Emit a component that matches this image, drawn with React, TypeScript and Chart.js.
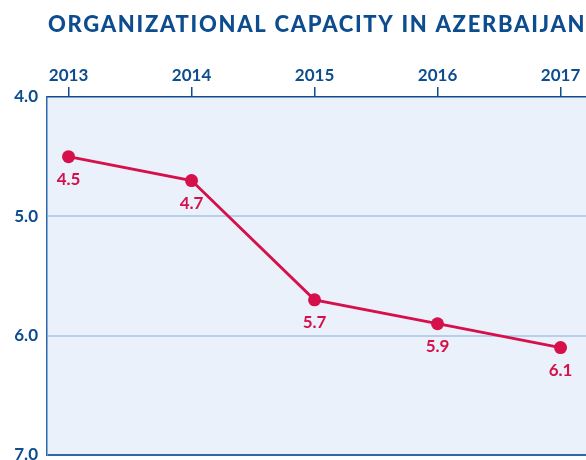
import React, { useEffect, useRef } from "react";
import { Chart, registerables } from "chart.js";

Chart.register(...registerables);

const TITLE = "ORGANIZATIONAL CAPACITY IN AZERBAIJAN";
const years = [2013, 2014, 2015, 2016, 2017];
const scores = [4.5, 4.7, 5.7, 5.9, 6.1];
const yTicks = [4, 5, 6, 7];

const BLUE = "#0d4c8e";
const RED = "#d5104a";
const BG = "#eaf1fa";
const GRID = "#b7cfeb";
const FONT = "Lato";

const bgPlugin = {
  id: "bgPlugin",
  beforeDraw(chart: any) {
    const { ctx, chartArea: a } = chart;
    ctx.save();
    ctx.fillStyle = BG;
    ctx.fillRect(a.left, a.top, a.right - a.left, a.bottom - a.top);
    ctx.restore();
  },
  afterDraw(chart: any) {
    const { ctx } = chart;
    ctx.save();
    ctx.fillStyle = BLUE;
    ctx.font = `900 22px ${FONT}`;
    ctx.textAlign = "left";
    ctx.textBaseline = "middle";
    (ctx as any).letterSpacing = "1.7px";
    ctx.fillText(TITLE, 48, 25);
    ctx.restore();
  },
};

const labelPlugin = {
  id: "labelPlugin",
  afterDatasetsDraw(chart: any) {
    const { ctx } = chart;
    const meta = chart.getDatasetMeta(0);
    ctx.save();
    ctx.fillStyle = RED;
    ctx.font = `bold 17px ${FONT}`;
    ctx.textAlign = "center";
    ctx.textBaseline = "middle";
    meta.data.forEach((pt: any, i: number) => {
      ctx.fillText(scores[i].toFixed(1), pt.x, pt.y + 23);
    });
    ctx.restore();
  },
};

export default function App() {
  const ref = useRef<HTMLCanvasElement | null>(null);
  useEffect(() => {
    if (!ref.current) return;
    const chart = new Chart(ref.current, {
      type: "line",
      data: {
        datasets: [
          {
            data: years.map((y, i) => ({ x: y, y: scores[i] })),
            borderColor: RED,
            backgroundColor: RED,
            borderWidth: 2.8,
            pointRadius: 6.5,
            pointHoverRadius: 6.5,
            pointBackgroundColor: RED,
            pointBorderWidth: 0,
            tension: 0,
          },
        ],
      },
      plugins: [bgPlugin, labelPlugin],
      options: {
        animation: false,
        responsive: false,
        devicePixelRatio: 1,
        layout: {
          autoPadding: false,
          padding: { top: 0, right: 0, bottom: 5, left: 0 },
        },
        plugins: {
          legend: { display: false },
          tooltip: { enabled: false },
          title: { display: false },
        },
        scales: {
          x: {
            type: "linear",
            position: "top",
            min: 2012.825,
            max: 2017.207,
            afterBuildTicks: (s: any) => {
              s.ticks = years.map((v) => ({ value: v }));
            },
            afterFit: (s: any) => {
              s.height = 97;
              s.paddingLeft = 0;
              s.paddingRight = 0;
            },
            ticks: {
              color: BLUE,
              font: { family: FONT, weight: "bold", size: 17 },
              padding: 1,
              maxRotation: 0,
              callback: (v: any) => String(v),
            },
            grid: {
              drawOnChartArea: false,
              drawTicks: true,
              tickLength: 10,
              color: BLUE,
              lineWidth: 1.5,
            },
            border: { display: true, color: BLUE, width: 1.5 },
          },
          y: {
            type: "linear",
            reverse: true,
            min: 4,
            max: 7,
            afterBuildTicks: (s: any) => {
              s.ticks = yTicks.map((v) => ({ value: v }));
            },
            afterFit: (s: any) => {
              s.width = 47;
              s.paddingTop = 0;
              s.paddingBottom = 0;
            },
            ticks: {
              color: BLUE,
              font: { family: FONT, weight: "bold", size: 17 },
              padding: 9,
              callback: (v: any) => Number(v).toFixed(1),
            },
            grid: {
              drawTicks: false,
              color: (c: any) =>
                c.tick && c.tick.value === 7
                  ? "#2d68ad"
                  : c.tick && (c.tick.value === 5 || c.tick.value === 6)
                  ? GRID
                  : "rgba(0,0,0,0)",
              lineWidth: 2,
            },
            border: { display: true, color: "#2d68ad", width: 1.5 },
          },
        },
      },
    });
    return () => chart.destroy();
  }, []);

  return (
    <div
      style={{
        position: "fixed",
        left: 0,
        top: 0,
        width: 586,
        height: 460,
        overflow: "hidden",
      }}
    >
      <canvas
        ref={ref}
        width={586}
        height={460}
        style={{ display: "block", width: 586, height: 460 }}
      />
    </div>
  );
}
